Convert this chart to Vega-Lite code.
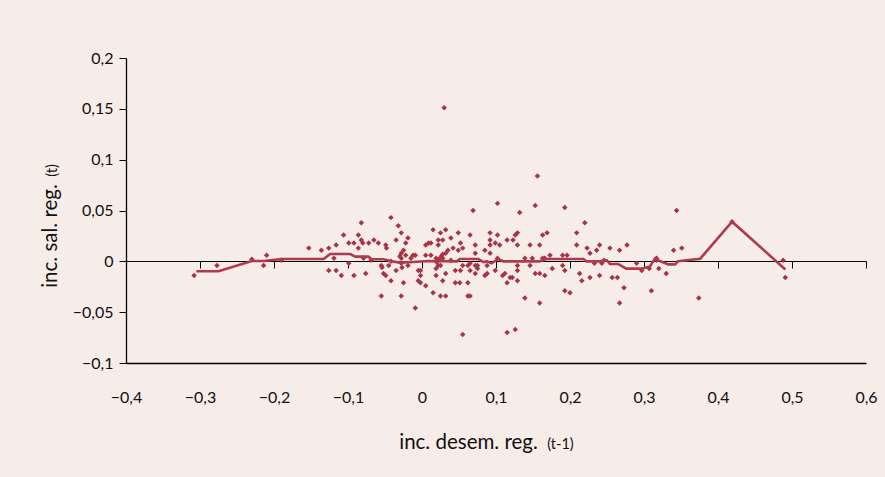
{
  "$schema": "https://vega.github.io/schema/vega-lite/v6.json",
  "width": 740,
  "height": 305,
  "autosize": {"type": "none"},
  "padding": {"left": 126, "top": 58, "right": 19, "bottom": 114},
  "background": "#f6ece8",
  "config": {
    "view": {"stroke": null},
    "locale": {"number": {"decimal": ",", "thousands": ".", "grouping": [3], "currency": ["", " €"]}},
    "axis": {"grid": false, "domainColor": "#000000", "tickColor": "#000000", "labelColor": "#111111", "titleColor": "#111111", "labelFont": "Lato", "titleFont": "Lato", "titleFontWeight": "normal", "labelFontSize": 16}
  },
  "datasets": {
    "pts": [
      {"x": -0.308, "y": -0.014}, {"x": -0.277, "y": -0.004}, {"x": -0.230, "y": 0.002}, {"x": -0.214, "y": -0.004},
      {"x": -0.210, "y": 0.006}, {"x": -0.190, "y": 0.001}, {"x": -0.153, "y": 0.013}, {"x": -0.136, "y": 0.011},
      {"x": -0.126, "y": 0.013}, {"x": -0.116, "y": 0.016}, {"x": -0.119, "y": 0.003}, {"x": -0.126, "y": -0.009},
      {"x": -0.116, "y": -0.009}, {"x": -0.109, "y": -0.014}, {"x": -0.106, "y": 0.026}, {"x": -0.099, "y": 0.018},
      {"x": -0.099, "y": -0.002}, {"x": -0.092, "y": 0.018}, {"x": -0.092, "y": -0.014}, {"x": -0.086, "y": 0.026},
      {"x": -0.086, "y": 0.013}, {"x": -0.082, "y": 0.038}, {"x": -0.082, "y": 0.021}, {"x": -0.080, "y": 0.018},
      {"x": -0.076, "y": -0.012}, {"x": -0.079, "y": 0.003}, {"x": -0.072, "y": 0.018}, {"x": -0.065, "y": 0.021},
      {"x": -0.059, "y": 0.018}, {"x": -0.069, "y": 0.001}, {"x": -0.055, "y": -0.004}, {"x": -0.054, "y": -0.006},
      {"x": -0.055, "y": -0.034}, {"x": -0.052, "y": -0.012}, {"x": -0.049, "y": -0.014}, {"x": -0.049, "y": 0.016},
      {"x": -0.048, "y": 0.013}, {"x": -0.045, "y": -0.004}, {"x": -0.042, "y": 0.043}, {"x": -0.042, "y": -0.019},
      {"x": -0.042, "y": 0.000}, {"x": -0.035, "y": 0.021}, {"x": -0.032, "y": 0.035}, {"x": -0.035, "y": -0.009},
      {"x": -0.028, "y": 0.028}, {"x": -0.028, "y": 0.008}, {"x": -0.028, "y": 0.003}, {"x": -0.028, "y": -0.002},
      {"x": -0.027, "y": -0.006}, {"x": -0.028, "y": -0.034}, {"x": -0.025, "y": 0.011}, {"x": -0.025, "y": -0.021},
      {"x": -0.022, "y": 0.018}, {"x": -0.019, "y": 0.023}, {"x": -0.022, "y": 0.006}, {"x": -0.019, "y": -0.004},
      {"x": -0.015, "y": 0.003}, {"x": -0.012, "y": 0.006}, {"x": -0.009, "y": 0.006}, {"x": -0.009, "y": -0.046},
      {"x": -0.005, "y": -0.009}, {"x": -0.002, "y": -0.009}, {"x": -0.002, "y": -0.014}, {"x": -0.005, "y": -0.019},
      {"x": -0.002, "y": -0.021}, {"x": 0.005, "y": -0.024}, {"x": 0.005, "y": 0.016}, {"x": 0.005, "y": 0.006},
      {"x": 0.009, "y": 0.018}, {"x": -0.030, "y": 0.005},
      {"x": 0.012, "y": 0.018}, {"x": 0.012, "y": 0.006}, {"x": 0.015, "y": 0.031}, {"x": 0.015, "y": -0.031},
      {"x": 0.019, "y": 0.003}, {"x": 0.019, "y": -0.007}, {"x": 0.019, "y": -0.014}, {"x": 0.022, "y": 0.021},
      {"x": 0.022, "y": 0.016}, {"x": 0.022, "y": -0.004}, {"x": 0.025, "y": 0.028}, {"x": 0.025, "y": -0.034},
      {"x": 0.028, "y": 0.021}, {"x": 0.028, "y": 0.003}, {"x": 0.028, "y": -0.019}, {"x": 0.032, "y": 0.031},
      {"x": 0.032, "y": 0.008}, {"x": 0.032, "y": -0.012}, {"x": 0.032, "y": -0.034}, {"x": 0.025, "y": -0.004},
      {"x": 0.035, "y": 0.011}, {"x": 0.039, "y": 0.023}, {"x": 0.039, "y": 0.001}, {"x": 0.045, "y": -0.009},
      {"x": 0.045, "y": -0.021}, {"x": 0.049, "y": 0.028}, {"x": 0.049, "y": 0.011}, {"x": 0.052, "y": 0.018},
      {"x": 0.052, "y": -0.009}, {"x": 0.055, "y": -0.004}, {"x": 0.055, "y": 0.013}, {"x": 0.055, "y": -0.072},
      {"x": 0.062, "y": -0.021}, {"x": 0.062, "y": -0.034}, {"x": 0.065, "y": -0.034}, {"x": 0.065, "y": 0.026},
      {"x": 0.065, "y": -0.002}, {"x": 0.065, "y": -0.009}, {"x": 0.069, "y": 0.050}, {"x": 0.072, "y": 0.016},
      {"x": 0.072, "y": 0.008}, {"x": 0.072, "y": -0.012}, {"x": 0.075, "y": -0.004}, {"x": 0.075, "y": -0.007},
      {"x": 0.085, "y": 0.011}, {"x": 0.085, "y": -0.014}, {"x": 0.088, "y": -0.012}, {"x": 0.088, "y": -0.004},
      {"x": 0.092, "y": 0.028}, {"x": 0.092, "y": 0.021}, {"x": 0.092, "y": 0.016}, {"x": 0.092, "y": 0.008},
      {"x": 0.099, "y": 0.018}, {"x": 0.099, "y": -0.009}, {"x": 0.102, "y": 0.057}, {"x": 0.102, "y": 0.026},
      {"x": 0.102, "y": 0.003}, {"x": 0.105, "y": 0.016}, {"x": 0.109, "y": -0.014}, {"x": 0.112, "y": -0.012},
      {"x": 0.115, "y": -0.021}, {"x": 0.115, "y": 0.021}, {"x": 0.115, "y": -0.070}, {"x": 0.119, "y": -0.016},
      {"x": 0.122, "y": -0.016}, {"x": 0.126, "y": 0.026}, {"x": 0.129, "y": 0.028}, {"x": 0.126, "y": -0.067},
      {"x": 0.129, "y": 0.016}, {"x": 0.129, "y": -0.004}, {"x": 0.129, "y": -0.009}, {"x": 0.129, "y": -0.019},
      {"x": 0.132, "y": 0.048}, {"x": 0.139, "y": 0.003}, {"x": 0.139, "y": -0.036}, {"x": 0.146, "y": 0.016},
      {"x": 0.146, "y": -0.004}, {"x": 0.149, "y": 0.003}, {"x": 0.153, "y": 0.055}, {"x": 0.153, "y": -0.012},
      {"x": 0.156, "y": 0.084}, {"x": 0.159, "y": 0.016}, {"x": 0.159, "y": -0.012}, {"x": 0.159, "y": -0.041},
      {"x": 0.163, "y": 0.026}, {"x": 0.163, "y": 0.003}, {"x": 0.166, "y": 0.003}, {"x": 0.166, "y": -0.014},
      {"x": 0.169, "y": 0.028}, {"x": 0.173, "y": 0.006}, {"x": 0.176, "y": -0.007}, {"x": 0.190, "y": 0.006},
      {"x": 0.190, "y": -0.004}, {"x": 0.193, "y": 0.053}, {"x": 0.193, "y": -0.009}, {"x": 0.193, "y": -0.029},
      {"x": 0.196, "y": 0.006}, {"x": 0.200, "y": -0.031}, {"x": 0.209, "y": 0.028}, {"x": 0.209, "y": 0.016},
      {"x": 0.213, "y": -0.012}, {"x": 0.216, "y": -0.019}, {"x": 0.220, "y": 0.038}, {"x": 0.223, "y": 0.013},
      {"x": 0.227, "y": 0.008}, {"x": 0.227, "y": -0.016}, {"x": 0.233, "y": -0.002}, {"x": 0.236, "y": 0.011},
      {"x": 0.240, "y": 0.016}, {"x": 0.240, "y": -0.014}, {"x": 0.243, "y": -0.002}, {"x": 0.246, "y": 0.001},
      {"x": 0.254, "y": 0.013}, {"x": 0.257, "y": -0.016}, {"x": 0.264, "y": -0.016}, {"x": 0.267, "y": 0.011},
      {"x": 0.267, "y": -0.041}, {"x": 0.273, "y": -0.026}, {"x": 0.277, "y": 0.016}, {"x": 0.290, "y": -0.002},
      {"x": 0.297, "y": -0.009}, {"x": 0.310, "y": -0.029}, {"x": 0.317, "y": 0.003}, {"x": 0.317, "y": 0.001},
      {"x": 0.320, "y": -0.007}, {"x": 0.330, "y": -0.012}, {"x": 0.307, "y": -0.007}, {"x": 0.340, "y": 0.011},
      {"x": 0.344, "y": 0.050}, {"x": 0.351, "y": 0.013}, {"x": 0.374, "y": -0.036}, {"x": 0.419, "y": 0.039},
      {"x": 0.488, "y": 0.001}, {"x": 0.491, "y": -0.016}, {"x": 0.030, "y": 0.151},
      {"x": 0.020, "y": -0.001}, {"x": 0.023, "y": 0.002}, {"x": 0.026, "y": 0.005}, {"x": 0.028, "y": 0.007},
      {"x": 0.051, "y": -0.021}, {"x": 0.042, "y": 0.013}, {"x": 0.123, "y": 0.021}, {"x": 0.072, "y": -0.004},
      {"x": 0.062, "y": -0.004}
    ],
    "trend": [
      {"x": -0.305, "y": -0.0098}, {"x": -0.275, "y": -0.0098}, {"x": -0.230, "y": 0.0003}, {"x": -0.214, "y": 0.0003},
      {"x": -0.190, "y": 0.0023}, {"x": -0.133, "y": 0.0023}, {"x": -0.124, "y": 0.0072}, {"x": -0.097, "y": 0.0072},
      {"x": -0.090, "y": 0.0046}, {"x": -0.0725, "y": 0.0046}, {"x": -0.068, "y": 0.002}, {"x": -0.052, "y": 0.002},
      {"x": -0.043, "y": 0.0003}, {"x": -0.030, "y": -0.0013}, {"x": -0.012, "y": -0.0007}, {"x": 0.0085, "y": 0.0003},
      {"x": 0.047, "y": 0.0}, {"x": 0.051, "y": 0.0023}, {"x": 0.076, "y": 0.0023}, {"x": 0.083, "y": -0.0007},
      {"x": 0.088, "y": 0.0}, {"x": 0.094, "y": -0.002}, {"x": 0.103, "y": 0.0023}, {"x": 0.110, "y": 0.0},
      {"x": 0.159, "y": 0.0}, {"x": 0.168, "y": 0.0023}, {"x": 0.218, "y": 0.0023}, {"x": 0.222, "y": 0.0},
      {"x": 0.240, "y": 0.0}, {"x": 0.250, "y": 0.001}, {"x": 0.254, "y": -0.0026}, {"x": 0.265, "y": -0.0026},
      {"x": 0.276, "y": -0.0072}, {"x": 0.297, "y": -0.0072}, {"x": 0.308, "y": -0.005}, {"x": 0.315, "y": 0.003},
      {"x": 0.322, "y": 0.0}, {"x": 0.333, "y": -0.003}, {"x": 0.342, "y": -0.003}, {"x": 0.346, "y": 0.0},
      {"x": 0.376, "y": 0.0026}, {"x": 0.419, "y": 0.039}, {"x": 0.491, "y": -0.008}
    ]
  },
  "resolve": {"axis": {"x": "independent", "y": "independent"}},
  "layer": [
    {
      "data": {"name": "pts"},
      "mark": {"type": "point", "shape": "diamond", "filled": true, "size": 30, "color": "#a63446", "opacity": 1},
      "encoding": {
        "x": {"field": "x", "type": "quantitative", "scale": {"domain": [-0.4, 0.6], "nice": false, "zero": false},
          "axis": {"orient": "bottom", "values": [-0.4, -0.3, -0.2, -0.1, 0, 0.1, 0.2, 0.3, 0.4, 0.5, 0.6], "format": "~g",
            "ticks": false, "tickSize": 0, "domainWidth": 1.3, "labelBaseline": "alphabetic", "labelPadding": 39,
            "labelFlush": false, "labelOverlap": false,
            "title": "inc. desem. reg.", "titleFontSize": 20.5, "titleX": 342, "titleY": 85, "titleAlign": "center", "titleBaseline": "alphabetic", "titleAnchor": null}},
        "y": {"field": "y", "type": "quantitative", "scale": {"domain": [-0.1, 0.2], "nice": false, "zero": false},
          "axis": {"orient": "left", "values": [-0.1, -0.05, 0, 0.05, 0.1, 0.15, 0.2], "format": "~g",
            "tickSize": 7, "domainWidth": 1.3, "labelPadding": 6, "labelFlush": false, "labelOverlap": false,
            "title": "inc. sal. reg.", "titleFontSize": 20.5, "titleX": -69.5, "titleY": 177.5, "titleAngle": -90, "titleAlign": "center", "titleBaseline": "alphabetic"}}
      }
    },
    {
      "data": {"name": "trend"},
      "mark": {"type": "line", "color": "#ae3a4c", "strokeWidth": 2.6},
      "encoding": {
        "x": {"field": "x", "type": "quantitative",
          "axis": {"orient": "bottom", "offset": -102, "values": [-0.4, -0.3, -0.2, -0.1, 0, 0.1, 0.2, 0.3, 0.4, 0.5, 0.6],
            "labels": false, "tickSize": 7, "domainWidth": 1.2,
            "title": "(t-1)", "titleFontSize": 14.5, "titleX": 434, "titleY": 187, "titleAlign": "center", "titleBaseline": "alphabetic"}},
        "y": {"field": "y", "type": "quantitative",
          "axis": {"orient": "left", "labels": false, "ticks": false, "domain": false,
            "title": "(t)", "titleFontSize": 14.5, "titleX": -69.5, "titleY": 112, "titleAngle": -90, "titleAlign": "center", "titleBaseline": "alphabetic"}}
      }
    }
  ]
}
